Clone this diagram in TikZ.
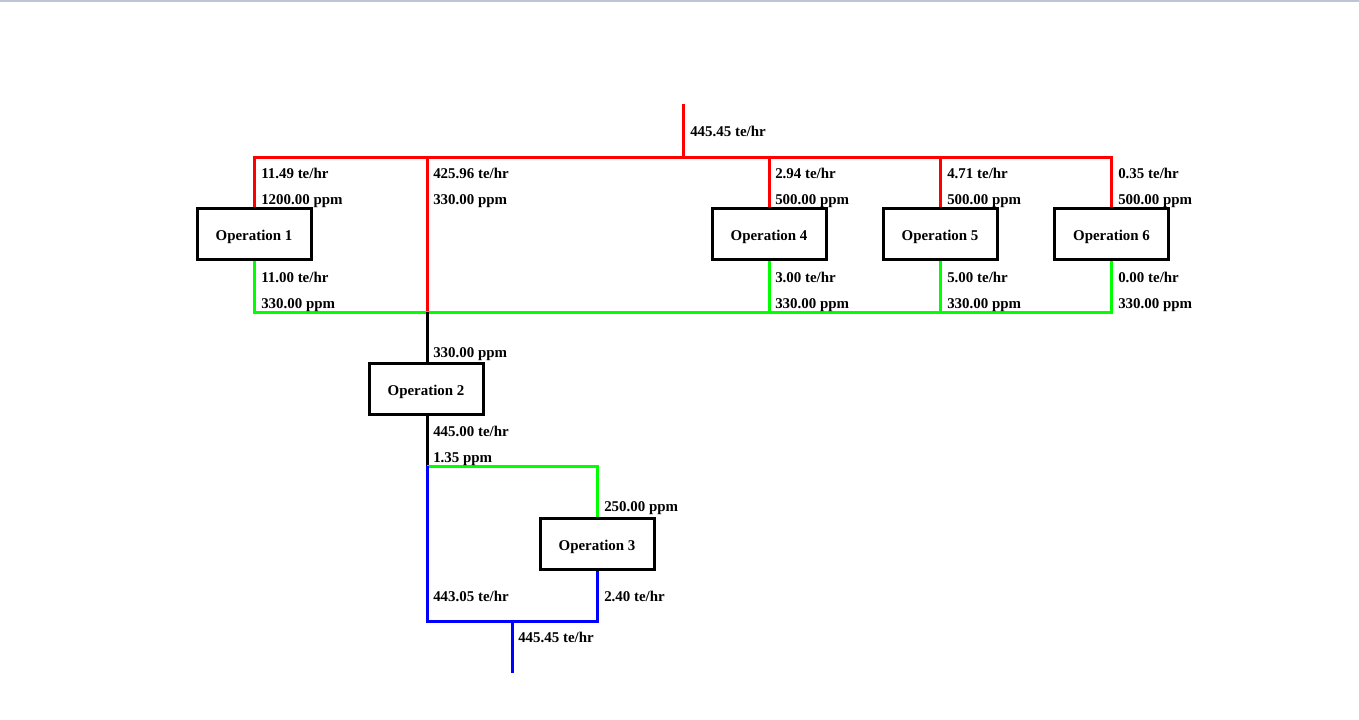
\documentclass[tikz,border=0pt]{standalone}
\usepackage{fontspec}
\setmainfont{Liberation Serif}
\usepackage{tikz}
\usetikzlibrary{calc}
\definecolor{fwred}{RGB}{255,0,0}
\definecolor{rugreen}{RGB}{0,255,0}
\definecolor{efblue}{RGB}{0,0,255}
\definecolor{winedge}{RGB}{190,195,215}
\tikzset{
  opbox/.style={draw=black, line width=2.25pt, fill=white, inner sep=0pt,
                minimum width=85.5pt, minimum height=38.25pt,
                text height=10.4pt, text depth=0pt,
                font=\fontsize{11.2pt}{13pt}\selectfont\bfseries},
  pipe/.style={line width=2.25pt},
  freshw/.style={pipe, fwred},
  reusew/.style={pipe, rugreen},
  treatw/.style={pipe, black},
  effw/.style={pipe, efblue},
  flow/.style={anchor=base west, inner sep=0pt,
               font=\fontsize{11.2pt}{13pt}\selectfont\bfseries},
}
\begin{document}
\begin{tikzpicture}[x=0.75pt, y=-0.75pt]
    \useasboundingbox (0,0) rectangle (1359,719);
    \draw[winedge, line width=1.5pt] (0,0.5) -- (1359,0.5);
    % operations
    \node[opbox] (op1) at (254,233.5) {Operation 1};
    \node[opbox] (op4) at (769,233.5) {Operation 4};
    \node[opbox] (op5) at (940,233.5) {Operation 5};
    \node[opbox] (op6) at (1111.5,233.5) {Operation 6};
    \node[opbox] (op2) at (426,388.5) {Operation 2};
    \node[opbox] (op3) at (597,543.5) {Operation 3};
    \coordinate (fwin) at (683,104);
    \coordinate (fwhd) at (683,157);
    \coordinate (ruhd) at (427,312);
    \coordinate (splt) at (427,466);
    \coordinate (mix) at (512,621);
    \coordinate (efout) at (512,673);
    % fresh water header
    \draw[freshw] (fwin) -- (fwhd);
    \draw[freshw] (op1.north) |- (op6.north |- fwhd) -- (op6.north);
    \draw[freshw] (op4.north) -- (op4.north |- fwhd);
    \draw[freshw] (op5.north) -- (op5.north |- fwhd);
    \draw[freshw] (ruhd |- fwhd) -- (ruhd);
    % reuse header
    \draw[reusew] (op1.south) |- (op6.south |- ruhd) -- (op6.south);
    \draw[reusew] (op4.south) -- (op4.south |- ruhd);
    \draw[reusew] (op5.south) -- (op5.south |- ruhd);
    \draw[treatw] (ruhd) -- (ruhd |- op2.north);
    \draw[treatw] (splt |- op2.south) -- (splt);
    \draw[reusew] (splt) -| (op3.north);
    \draw[effw] (splt) |- (op3.south |- mix) -- (op3.south);
    \draw[effw] (mix) -- (efout);
    % flows
    \node[flow] (fin) at (690,136) {445.45 te/hr};
    \node[flow] (f1) at (261,178) {11.49 te/hr};
    \node[flow] (c1) at (261,204) {1200.00 ppm};
    \node[flow] (fb) at (433,178) {425.96 te/hr};
    \node[flow] (cb) at (433,204) {330.00 ppm};
    \node[flow] (f4) at (775,178) {2.94 te/hr};
    \node[flow] (c4) at (775,204) {500.00 ppm};
    \node[flow] (f5) at (947,178) {4.71 te/hr};
    \node[flow] (c5) at (947,204) {500.00 ppm};
    \node[flow] (f6) at (1118,178) {0.35 te/hr};
    \node[flow] (c6) at (1118,204) {500.00 ppm};
    \node[flow] (g1) at (261,282) {11.00 te/hr};
    \node[flow] (d1) at (261,308) {330.00 ppm};
    \node[flow] (g4) at (775,282) {3.00 te/hr};
    \node[flow] (d4) at (775,308) {330.00 ppm};
    \node[flow] (g5) at (947,282) {5.00 te/hr};
    \node[flow] (d5) at (947,308) {330.00 ppm};
    \node[flow] (g6) at (1118,282) {0.00 te/hr};
    \node[flow] (d6) at (1118,308) {330.00 ppm};
    \node[flow] (c2in) at (433,357) {330.00 ppm};
    \node[flow] (f2out) at (433,436) {445.00 te/hr};
    \node[flow] (c2out) at (433,462) {1.35 ppm};
    \node[flow] (c3in) at (604,511) {250.00 ppm};
    \node[flow] (fby) at (433,601) {443.05 te/hr};
    \node[flow] (f3out) at (604,601) {2.40 te/hr};
    \node[flow] (fout) at (518,642) {445.45 te/hr};
\end{tikzpicture}
\end{document}
